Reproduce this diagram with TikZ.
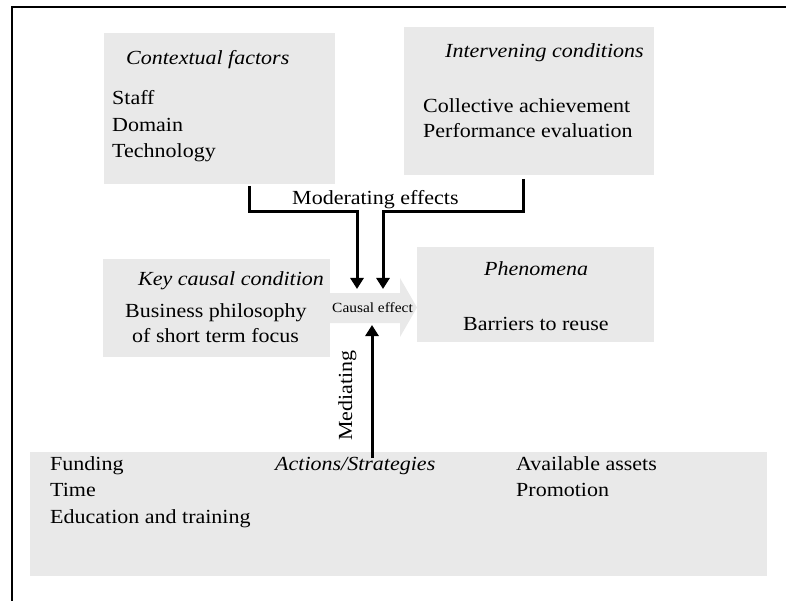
\documentclass[tikz,border=0pt]{standalone}
\usepackage{fontspec}
\setmainfont{Liberation Serif}[FakeStretch=1.1]
\usetikzlibrary{arrows.meta}
\definecolor{boxgray}{RGB}{233,233,233}
\begin{document}
\begin{tikzpicture}[x=1pt,y=-1pt,
  box/.style={fill=boxgray, draw=none, inner sep=0pt, anchor=north west},
  lbl/.style={anchor=base west, inner sep=0pt, font=\fontsize{20}{23}\selectfont},
  ilbl/.style={lbl, font=\fontsize{20}{23}\selectfont\itshape},
  conn/.style={line width=3pt, -{Triangle[width=13pt,length=11pt]}},
  frame/.style={line width=1.8pt}
]
\useasboundingbox (0,0) rectangle (786,601);
% frame
\draw[frame] (12,601) -- (12,6.8) -- (786,6.8);
% boxes
\node[box, minimum width=231pt, minimum height=151pt] (ctx) at (104,33) {};
\node[box, minimum width=250pt, minimum height=148pt] (int) at (404,27) {};
\node[box, minimum width=227pt, minimum height=98pt] (key) at (103,259) {};
\node[box, minimum width=237pt, minimum height=95pt] (phen) at (417,247) {};
\node[box, minimum width=737pt, minimum height=124pt] (act) at (30,452) {};
% causal effect block arrow
\coordinate (ceA) at (330,293);
\fill[boxgray] (ceA) -- (400,293) -- (400,278) -- (417,307.5) -- (400,337) -- (400,323) -- (330,323) -- cycle;
\node[anchor=base, inner sep=0pt, font=\fontsize{14}{16}\selectfont] (ce) at (372.5,312) {Causal effect};
% texts
\node[ilbl] (tctx) at (126,65) {Contextual factors};
\node[lbl] (t1) at (112,105) {Staff};
\node[lbl] (t2) at (112,131.5) {Domain};
\node[lbl] (t3) at (112,157.5) {Technology};
\node[ilbl] (tint) at (445,58) {Intervening conditions};
\node[lbl] (t4) at (423,113) {Collective achievement};
\node[lbl] (t5) at (423,138) {Performance evaluation};
\node[ilbl] (tkey) at (138,285) {Key causal condition};
\node[lbl] (t6) at (125,317) {Business philosophy};
\node[lbl] (t7) at (132,342) {of short term focus};
\node[ilbl] (tphen) at (484,276) {Phenomena};
\node[lbl] (t8) at (463,330) {Barriers to reuse};
\node[ilbl] (tact) at (275,470) {Actions/Strategies};
\node[lbl] (t9) at (50,470) {Funding};
\node[lbl] (t10) at (50,496.5) {Time};
\node[lbl] (t11) at (50,523) {Education and training};
\node[lbl] (t12) at (516,470) {Available assets};
\node[lbl] (t13) at (516,496.5) {Promotion};
% connectors
\coordinate (m1s) at (249,186);
\coordinate (m1k) at (249,212);
\coordinate (m1j) at (357,212);
\coordinate (m1t) at (357,289);
\coordinate (m2s) at (523,179);
\coordinate (m2k) at (523,212);
\coordinate (m2j) at (383,212);
\coordinate (m2t) at (383,289);
\draw[conn] (m1s) -- (m1k) -- (m1j) -- (m1t);
\draw[conn] (m2s) -- (m2k) -- (m2j) -- (m2t);
\node[lbl] (tmod) at (292,205) {Moderating effects};
\coordinate (meds) at (372,458);
\coordinate (medt) at (372,325);
\draw[conn] (meds) -- (medt);
\node[lbl, rotate=90] (tmed) at (352,441) {Mediating};
\end{tikzpicture}
\end{document}
